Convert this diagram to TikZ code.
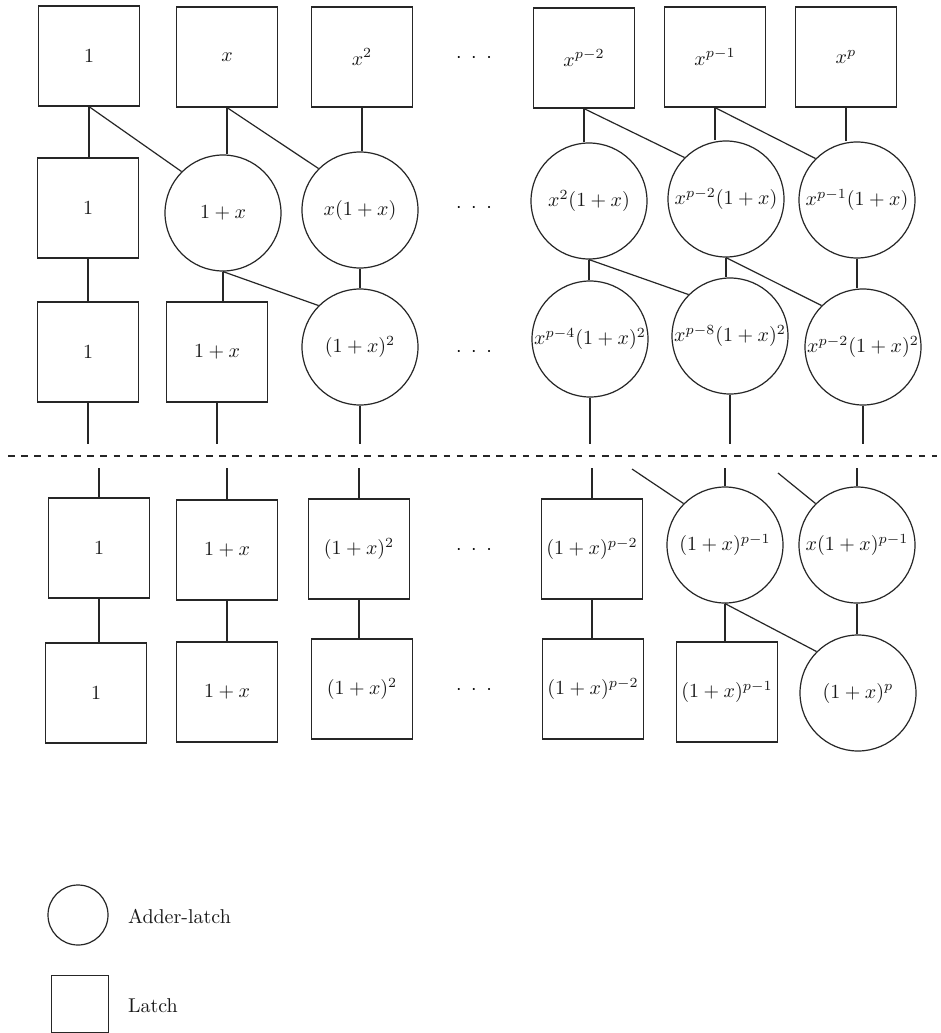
\documentclass[tikz,border=0pt]{standalone}
\usetikzlibrary{positioning}
\newcommand{\rowdots}{$\cdotp\kern3.1pt\cdotp\kern3.1pt\cdotp$}

\begin{document}
\begin{tikzpicture}[x=0.5pt,y=-0.5pt,
  latch/.style={draw=black!85,line width=0.6pt,rectangle,minimum width=50.5pt,
    minimum height=50pt,inner sep=1pt,text=black!90},
  adder/.style={draw=black!85,line width=0.6pt,circle,minimum size=58pt,inner sep=0.5pt,
    text=black!90},
  wire/.style={draw=black!85,line width=0.6pt}
]
  \useasboundingbox[fill=white] (0,0) rectangle (941,1033);

  % Row 1: powers of x
  \node[latch] (a1) at (89,56) {$1$};
  \node[latch] (a2) at (227,57) {$x$};
  \node[latch] (a3) at (362,57) {$x^2$};
  \node[latch] (a4) at (584,58) {$x^{p-2}$};
  \node[latch] (a5) at (715,57) {$x^{p-1}$};
  \node[latch] (a6) at (846,57) {$x^p$};
  % Row 2
  \node[latch] (b1) at (88,208) {$1$};
  \node[adder] (b2) at (223,213) {$1+x$};
  \node[adder] (b3) at (360,210) {$x(1+x)$};
  \node[adder] (b4) at (589,201) {$x^2(1+x)$};
  \node[adder] (b5) at (726,199) {$x^{p-2}(1+x)$};
  \node[adder] (b6) at (857,200) {$x^{p-1}(1+x)$};
  % Row 3
  \node[latch] (c1) at (88,352) {$1$};
  \node[latch] (c2) at (217,352) {$1+x$};
  \node[adder] (c3) at (360,347) {$(1+x)^2$};
  \node[adder] (c4) at (590,339) {$x^{p-4}(1+x)^2$};
  \node[adder] (c5) at (730,336) {$x^{p-8}(1+x)^2$};
  \node[adder] (c6) at (863,347) {$x^{p-2}(1+x)^2$};
  % Row 4 (after the cut)
  \node[latch] (d1) at (99,548) {$1$};
  \node[latch] (d2) at (227,550) {$1+x$};
  \node[latch] (d3) at (359,549) {$(1+x)^2$};
  \node[latch] (d4) at (592,549) {$(1+x)^{p-2}$};
  \node[adder] (d5) at (725,545) {$(1+x)^{p-1}$};
  \node[adder] (d6) at (857,545) {$x(1+x)^{p-1}$};
  % Row 5
  \node[latch] (e1) at (96,693) {$1$};
  \node[latch] (e2) at (227,692) {$1+x$};
  \node[latch] (e3) at (362,689) {$(1+x)^2$};
  \node[latch] (e4) at (593,689) {$(1+x)^{p-2}$};
  \node[latch] (e5) at (727,692) {$(1+x)^{p-1}$};
  \node[adder] (e6) at (858,693) {$(1+x)^p$};

  % Dots between the columns
  \foreach \r/\yy in {1/58,2/208,3/352,4/550,5/690}
    \node (dots\r) at (474,\yy) {\rowdots};

  % Cut line and loose ends
  \coordinate (cutl) at (8,456);
  \coordinate (cutr) at (937,456);
  \coordinate (cuttop) at (0,444);
  \coordinate (cutbot) at (0,468);
  \coordinate (in5) at (632,469);
  \coordinate (in6) at (778,473);
  \draw[wire,dash pattern=on 3.3pt off 3.3pt] (cutl) -- (cutr);

  % Straight links
  \foreach \u/\l in {a1/b1,a2/b2,a3/b3,a4/b4,a5/b5,a6/b6,
                     b1/c1,b2/c2,b3/c3,b4/c4,b5/c5,b6/c6,
                     d1/e1,d2/e2,d3/e3,d4/e4,d5/e5,d6/e6}
    \draw[wire] (\u.south) -- (\u.south |- \l.north);
  \foreach \u in {c1,c2,c3,c4,c5,c6}
    \draw[wire] (\u.south) -- (\u.south |- cuttop);
  \foreach \l in {d1,d2,d3,d4,d5,d6}
    \draw[wire] (\l.north) -- (\l.north |- cutbot);

  % Slanted links into the adders
  \foreach \u/\l in {a1/b2,a2/b3,a4/b5,a5/b6,b2/c3,b4/c5,b5/c6,d5/e6}
    \draw[wire] (\u.south) -- (\l.north west);
  \draw[wire] (in5) -- (d5.north west);
  \draw[wire] (in6) -- (d6.north west);

  % Legend
  \node[adder,minimum size=30pt] (legadd) at (78,915) {};
  \node[latch,minimum width=28.5pt,minimum height=28.5pt] (leglatch) at (80,1004) {};
  \node[anchor=west,text=black!90] (legaddtxt) at (121,916) {Adder-latch};
  \node[anchor=west,text=black!90] (leglatchtxt) at (121,1006) {Latch};
\end{tikzpicture}
\end{document}
